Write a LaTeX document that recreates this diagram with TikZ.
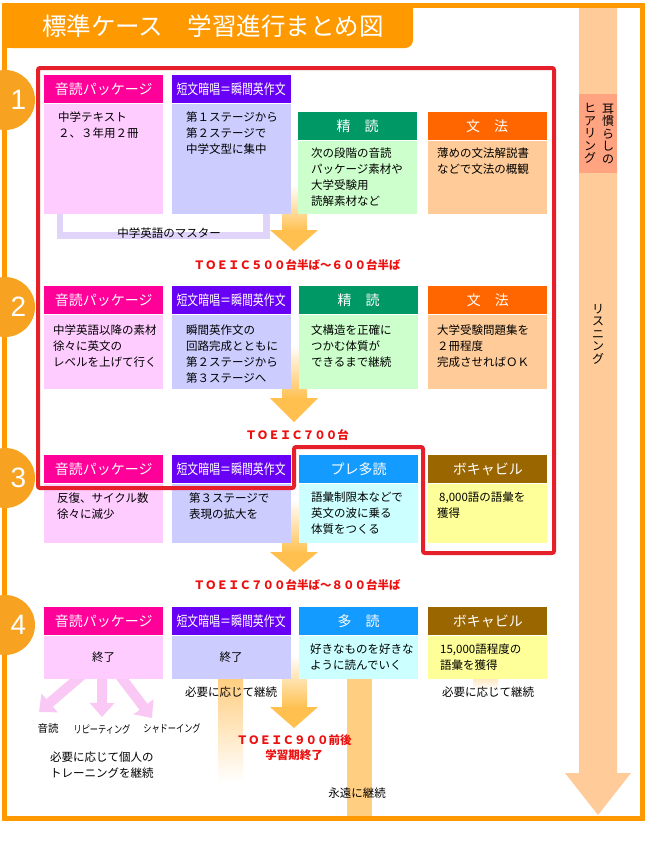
\documentclass[tikz,border=0pt]{standalone}
\usepackage{fontspec}
\usepackage{graphicx}
\usetikzlibrary{positioning,arrows.meta,backgrounds}
\newfontfamily\jp{Noto Sans CJK JP}
\newfontfamily\digits{Liberation Sans}
\definecolor{frameorange}{RGB}{255,153,0}
\definecolor{numorange}{RGB}{247,163,33}
\definecolor{markred}{RGB}{230,32,42}
\definecolor{toeicred}{RGB}{236,16,16}
\definecolor{ondokuhead}{RGB}{255,0,153}
\definecolor{ondokubody}{RGB}{255,204,255}
\definecolor{ondokuarrow}{RGB}{250,200,245}
\definecolor{anshohead}{RGB}{104,0,245}
\definecolor{anshobody}{RGB}{204,204,255}
\definecolor{seidokuhead}{RGB}{0,153,102}
\definecolor{seidokubody}{RGB}{204,255,204}
\definecolor{bunpohead}{RGB}{255,102,0}
\definecolor{bunpobody}{RGB}{255,204,153}
\definecolor{tadokuhead}{RGB}{20,155,255}
\definecolor{tadokubody}{RGB}{204,255,255}
\definecolor{vocabhead}{RGB}{153,102,0}
\definecolor{vocabbody}{RGB}{255,255,153}
\definecolor{listenbar}{RGB}{255,204,153}
\definecolor{hearbox}{RGB}{255,163,128}
\definecolor{flowarrow}{RGB}{255,192,80}
\definecolor{keepbar}{RGB}{255,206,128}
\definecolor{masterbar}{RGB}{225,212,250}

\begin{document}
\begin{tikzpicture}[x=1pt, y=-1pt,
    head/.style = {anchor=north west, minimum width=119pt, minimum height=28pt, inner sep=0pt, text=white, font=\jp\fontsize{14}{14}\selectfont},
    body/.style = {minimum width=119pt, inner sep=0pt},
    txt/.style = {anchor=north west, align=left, inner sep=0pt, font=\jp\fontsize{11.5}{16}\selectfont},
    lbl/.style = {inner sep=0pt, font=\jp\fontsize{11.5}{16}\selectfont},
    small/.style = {inner sep=0pt, font=\jp\fontsize{10.5}{12}\selectfont},
    toeic/.style = {inner sep=0pt, text=toeicred, font=\jp\bfseries\fontsize{11.5}{15}\selectfont},
    numdot/.style = {circle, fill=numorange, minimum size=60pt, inner sep=0pt},
    num/.style = {inner sep=0pt, text=white, font=\digits\fontsize{28}{28}\selectfont},
    vert/.style = {align=center, inner sep=0pt, font=\jp\fontsize{12}{12.5}\selectfont},
    flow/.style = {top color=white, bottom color=flowarrow},
    pinkarrow/.style = {draw=ondokuarrow, line width=10pt, -{Triangle[width=24pt, length=14pt]}},
    master/.style = {draw=masterbar, line width=6.5pt}]
\useasboundingbox (0,0) rectangle (657,841);

\node[head, fill=ondokuhead] (h11) at (44,75) {音読パッケージ};
\node[head, fill=anshohead] (h12) [right=8pt of h11] {\scalebox{0.78}[1]{短文暗唱＝瞬間英作文}};
\node[head, fill=seidokuhead] (h13) at (298,112) {精　読};
\node[head, fill=bunpohead] (h14) [right=10pt of h13] {文　法};
\node[body, fill=ondokubody, minimum height=110pt] (b11) [below=0pt of h11] {};
\node[body, fill=anshobody, minimum height=110pt] (b12) [below=0pt of h12] {};
\node[body, fill=seidokubody, minimum height=73pt] (b13) [below=0pt of h13] {};
\node[body, fill=bunpobody, minimum height=73pt] (b14) [below=0pt of h14] {};
\node[txt] (t11) at (58,111.5) {中学テキスト\\２、３年用２冊};
\node[txt] (t12) at (186,111.5) {第１ステージから\\第２ステージで\\中学文型に集中};
\node[txt] (t13) at (311,147.5) {次の段階の音読\\パッケージ素材や\\大学受験用\\読解素材など};
\node[txt] (t14) at (437,147.5) {薄めの文法解説書\\などで文法の概観};
\node[lbl] (mst) at (169,233) {中学英語のマスター};

\node[head, fill=ondokuhead] (h21) at (44,286) {音読パッケージ};
\node[head, fill=anshohead] (h22) [right=8pt of h21] {\scalebox{0.78}[1]{短文暗唱＝瞬間英作文}};
\node[head, fill=seidokuhead] (h23) [right=8pt of h22] {精　読};
\node[head, fill=bunpohead] (h24) [right=10pt of h23] {文　法};
\node[body, fill=ondokubody, minimum height=74pt] (b21) [below=0pt of h21] {};
\node[body, fill=anshobody, minimum height=74pt] (b22) [below=0pt of h22] {};
\node[body, fill=seidokubody, minimum height=74pt] (b23) [below=0pt of h23] {};
\node[body, fill=bunpobody, minimum height=74pt] (b24) [below=0pt of h24] {};
\node[txt] (t21) at (53,324.5) {中学英語以降の素材\\徐々に英文の\\レベルを上げて行く};
\node[txt] (t22) at (186,324.5) {瞬間英作文の\\回路完成とともに\\第２ステージから\\第３ステージへ};
\node[txt] (t23) at (311,324.5) {文構造を正確に\\つかむ体質が\\できるまで継続};
\node[txt] (t24) at (437,324.5) {大学受験問題集を\\２冊程度\\完成させればＯＫ};

\node[head, fill=ondokuhead] (h31) at (44,455) {音読パッケージ};
\node[head, fill=anshohead] (h32) [right=8pt of h31] {\scalebox{0.78}[1]{短文暗唱＝瞬間英作文}};
\node[head, fill=tadokuhead] (h33) [right=8pt of h32] {プレ多読};
\node[head, fill=vocabhead] (h34) [right=10pt of h33] {ボキャビル};
\node[body, fill=ondokubody, minimum height=59pt] (b31) [below=0pt of h31] {};
\node[body, fill=anshobody, minimum height=59pt] (b32) [below=0pt of h32] {};
\node[body, fill=tadokubody, minimum height=59pt] (b33) [below=0pt of h33] {};
\node[body, fill=vocabbody, minimum height=59pt] (b34) [below=0pt of h34] {};
\node[txt] (t31) at (57,492.5) {反復、サイクル数\\徐々に減少};
\node[txt] (t32) at (189,492.5) {第３ステージで\\表現の拡大を};
\node[txt] (t33) at (311,491.5) {語彙制限本などで\\英文の波に乗る\\体質をつくる};
\node[txt] (t34) at (437,491.5) {\hspace*{2pt}8,000語の語彙を\\獲得};

\node[head, fill=ondokuhead] (h41) at (44,607) {音読パッケージ};
\node[head, fill=anshohead] (h42) [right=8pt of h41] {\scalebox{0.78}[1]{短文暗唱＝瞬間英作文}};
\node[head, fill=tadokuhead] (h43) [right=8pt of h42] {多　読};
\node[head, fill=vocabhead] (h44) [right=10pt of h43] {ボキャビル};
\node[body, fill=ondokubody, minimum height=43pt] (b41) [below=0pt of h41] {};
\node[body, fill=anshobody, minimum height=43pt] (b42) [below=0pt of h42] {};
\node[body, fill=tadokubody, minimum height=43pt] (b43) [below=0pt of h43] {};
\node[body, fill=vocabbody, minimum height=43pt] (b44) [below=0pt of h44] {};
\node[lbl] (t41) at (b41) {終了};
\node[lbl] (t42) at (b42) {終了};
\node[txt] (t43) at (310,643.5) {好きなものを好きな\\ように読んでいく};
\node[txt] (t44) at (440,643.5) {15,000語程度の\\語彙を獲得};

\node[small] (sa) at (48,729) {音読};
\node[small] (sb) at (102,729) {\scalebox{0.78}[1]{リピーティング}};
\node[small] (sc) at (172,729) {\scalebox{0.78}[1]{シャドーイング}};
\node[txt] (t45) at (50,751.5) {必要に応じて個人の\\トレーニングを継続};
\node[lbl] (k42) at (231,692) {必要に応じて継続};
\node[lbl] (k44) at (488,692) {必要に応じて継続};
\node[lbl] (k43) at (357,793) {永遠に継続};

\node[toeic] (s1) at (297,265) {ＴＯＥＩＣ５００台半ば～６００台半ば};
\node[toeic] (s2) at (297,435) {ＴＯＥＩＣ７００台};
\node[toeic] (s3) at (297,585) {ＴＯＥＩＣ７００台半ば～８００台半ば};
\node[toeic, align=center] (s4) at (294,747.5) {ＴＯＥＩＣ９００前後\\学習期終了};

\coordinate (pa) at (39,712);
\coordinate (pb) at (102,717);
\coordinate (pc) at (152,718);

\begin{scope}[on background layer]
\fill[white] (0,0) rectangle (657,841);
\fill[listenbar] (579,6) -- (617,6) -- (617,773) -- (631,773) -- (598,815) -- (565,773) -- (579,773) -- cycle;
\node[fill=hearbox, minimum width=38pt, minimum height=79pt, inner sep=0pt] (hear) at (598,133.5) {};
\shade[flow] (282,185) rectangle (307,231);
\fill[flowarrow] (270,230) -- (318,230) -- (294,251) -- cycle;
\shade[flow] (282,345) rectangle (307,399);
\fill[flowarrow] (270,398) -- (318,398) -- (294,422) -- cycle;
\shade[flow] (282,500) rectangle (307,553);
\fill[flowarrow] (270,552) -- (318,552) -- (294,572) -- cycle;
\shade[flow] (282,655) rectangle (307,708);
\fill[flowarrow] (270,707) -- (318,707) -- (294,728) -- cycle;
\draw[master] ([xshift=16pt]b11.south west) -- ++(0pt,-21.5pt) -| ([xshift=-24.5pt]b12.south east);
\draw[pinkarrow] ([xshift=-19pt,yshift=6pt]b41.south) -- (pa);
\draw[pinkarrow] ([xshift=-1.5pt,yshift=6pt]b41.south) -- (pb);
\draw[pinkarrow] ([xshift=14pt,yshift=6pt]b41.south) -- (pc);
\shade[top color=keepbar, bottom color=white] (218,678) rectangle (243,782);
\fill[keepbar] (347,678) rectangle (372,816);
\shade[top color=keepbar!50, bottom color=white] (473,678) rectangle (498,690);
\end{scope}

\node[vert] (hearA) at (608,133.5) {耳\\慣\\ら\\し\\の};
\node[vert] (hearB) at (590,133.5) {ヒ\\ア\\リ\\ン\\グ};
\node[vert] (listen) at (598,334) {リ\\ス\\ニ\\ン\\グ};

\draw[markred, line width=4pt, rounded corners=2pt] (38,68) -- (554,68) -- (554,553) -- (423,553) -- (423,447) -- (294,447) -- (294,488) -- (38,488) -- cycle;

\draw[frameorange, line width=5pt] (4,5) rectangle (642,818);
\fill[frameorange, rounded corners=8pt] (4,3) rectangle (413,48);
\fill[frameorange] (4,3) rectangle (400,48);
\fill[frameorange] (4,3) rectangle (413,30);
\node[inner sep=0pt, anchor=west, text=white, font=\jp\fontsize{24.5}{24.5}\selectfont] (ttl) at (42,26) {標準ケース　学習進行まとめ図};

\node[numdot] (c1) at (5,100) {};
\node[numdot] (c2) at (5,307) {};
\node[numdot] (c3) at (5,478) {};
\node[numdot] (c4) at (5,625) {};
\node[num] (n1) at (18.5,100) {1};
\node[num] (n2) at (18.5,307) {2};
\node[num] (n3) at (18.5,478) {3};
\node[num] (n4) at (18.5,625) {4};
\end{tikzpicture}
\end{document}
